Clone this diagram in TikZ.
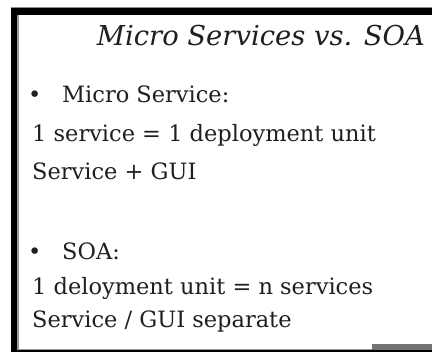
\documentclass[tikz,border=0pt]{standalone}
\usepackage{fontspec}
\setmainfont{DejaVu Serif}
\begin{document}
\begin{tikzpicture}[x=1pt,y=1pt,
  body/.style={anchor=base west, inner sep=0pt, text=black!88, font=\fontsize{22.5}{22.5}\selectfont},
  titletext/.style={anchor=base, inner sep=0pt, text=black!88, font=\fontsize{27.4}{27.4}\selectfont\itshape},
  bul/.style={anchor=base west, inner sep=0pt, text=black!88, font=\fontsize{22.5}{22.5}\selectfont}]
\useasboundingbox (0,0) rectangle (432,353);
\fill[white] (0,0) rectangle (432,353);
% frame
\fill[black!45] (11,345) rectangle (432,346);
\fill[black] (11,338) rectangle (432,345);
\fill[black] (11,0.5) rectangle (17,345);
\fill[black!40] (17,2.5) rectangle (18.5,338);
\fill[black] (11,0.5) rectangle (432,2.5);
\fill[black!40] (18.5,2.5) rectangle (432,3.5);
\fill[black!55] (372,2.5) rectangle (432,9);
% texts
\node[titletext] (title) at (261,307) {Micro Services vs. SOA};
\node[bul] (b1) at (28,250) {•};
\node[body] (ms) at (62,250) {Micro Service:};
\node[body] (ms1) at (32,211) {1 service = 1 deployment unit};
\node[body] (ms2) at (32,173) {Service + GUI};
\node[bul] (b2) at (28,93) {•};
\node[body] (soa) at (62,93) {SOA:};
\node[body] (soa1) at (32,58) {1 deloyment unit = n services};
\node[body] (soa2) at (32,25) {Service / GUI separate};
\end{tikzpicture}
\end{document}
